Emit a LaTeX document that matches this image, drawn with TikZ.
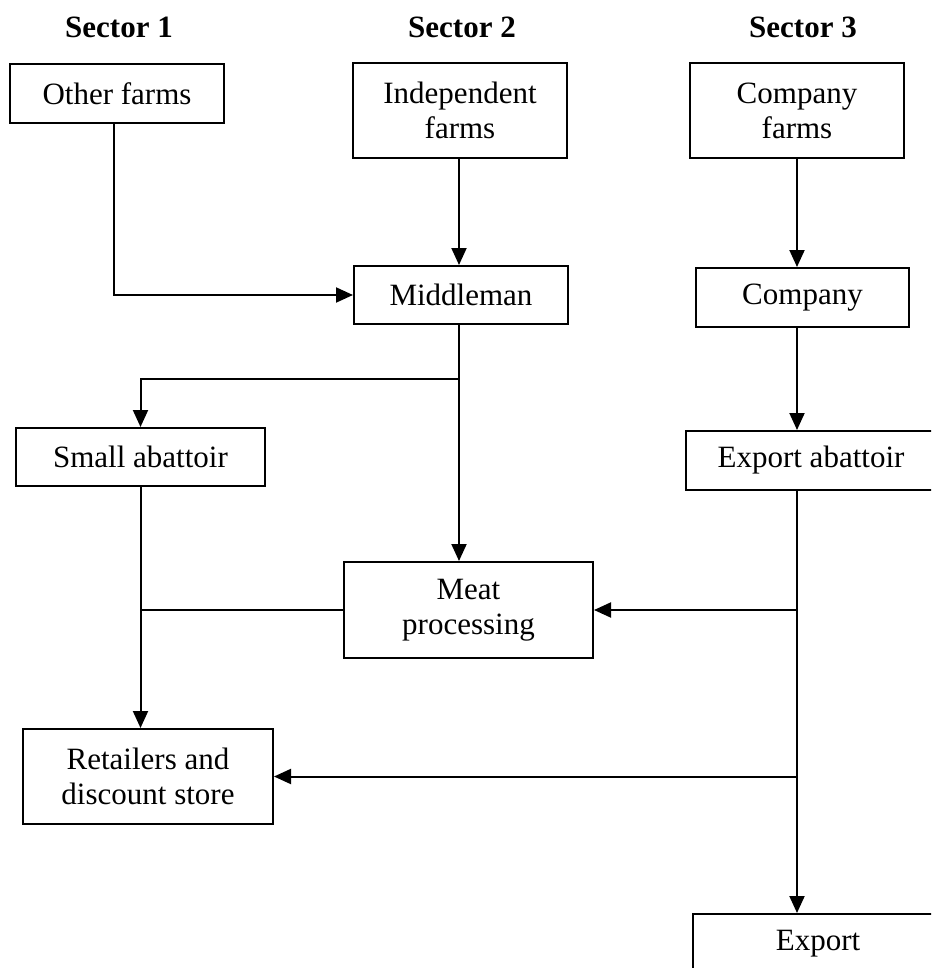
\documentclass[tikz,border=0pt]{standalone}
\usepackage{fontspec}
\setmainfont{Liberation Serif}
\usetikzlibrary{arrows.meta}

\tikzset{
  box/.style={draw, line width=1pt, align=center, inner sep=0pt,
    font=\fontsize{15.5pt}{17.5pt}\selectfont},
  link/.style={line width=1pt},
  flow/.style={link, -{Triangle[length=8.5pt,width=7.5pt]}},
  sectorhead/.style={font=\fontsize{15.5pt}{17.5pt}\selectfont\bfseries}
}

\begin{document}
\begin{tikzpicture}[x=0.5pt,y=-0.5pt]

% page frame
\useasboundingbox (0,0) rectangle (931,968);
\clip (0,0) rectangle (931,968);

% sector heads
\begin{scope}
\node[sectorhead] (secA) at (119,27) {Sector 1};
\node[sectorhead] (secB) at (462,27) {Sector 2};
\node[sectorhead] (secC) at (803,27) {Sector 3};
\end{scope}

% boxes
\begin{scope}
\node[box, minimum width=107pt, minimum height=29.5pt] (other) at (117,93.5) {Other farms};
\node[box, minimum width=107pt, minimum height=47.5pt] (indep) at (460,110.5) {Independent\\farms};
\node[box, minimum width=107pt, minimum height=47.5pt] (cofarms) at (797,110.5) {Company\\farms};
\node[box, minimum width=107pt, minimum height=29pt] (middle) at (461,295) {Middleman};
\node[box, minimum width=106.5pt, minimum height=29.5pt] (company) at (802.5,297.5) {Company};
\node[box, minimum width=124.5pt, minimum height=29pt] (small) at (140.5,457) {Small abattoir};
\node[box, minimum width=125pt, minimum height=29.5pt] (expab) at (811,460.5) {Export abattoir};
\node[box, minimum width=124.5pt, minimum height=48pt] (meat) at (468.5,610) {Meat\\processing};
\node[box, minimum width=125pt, minimum height=47.5pt] (retail) at (148,776.5) {Retailers and\\discount store};
\node[box, minimum width=125pt, minimum height=29.5pt] (export) at (818,943.5) {Export};
\end{scope}

% links
\begin{scope}
\coordinate (split) at (459,379);
\draw[flow] (other.south -| 114,0) |- (middle.west);
\draw[flow] (indep.south -| split) -- (split |- middle.north);
\draw[link] (middle.south -| split) -- (split);
\draw[flow] (split) -- (split |- meat.north);
\draw[flow] (split) -| (small.north);
\draw[flow] (cofarms.south) -- (cofarms.south |- company.north);
\draw[flow] (company.south -| cofarms.south) -- (cofarms.south |- expab.north);
\draw[flow] (small.south) -- (small.south |- retail.north);
\draw[link] (meat.west) -- (meat.west -| small.south);
\draw[flow] (expab.south -| cofarms.south) -- (cofarms.south |- export.north);
\draw[flow] (meat.east -| cofarms.south) -- (meat.east);
\draw[flow] (retail.east -| cofarms.south) -- (retail.east);
\end{scope}

\end{tikzpicture}
\end{document}
